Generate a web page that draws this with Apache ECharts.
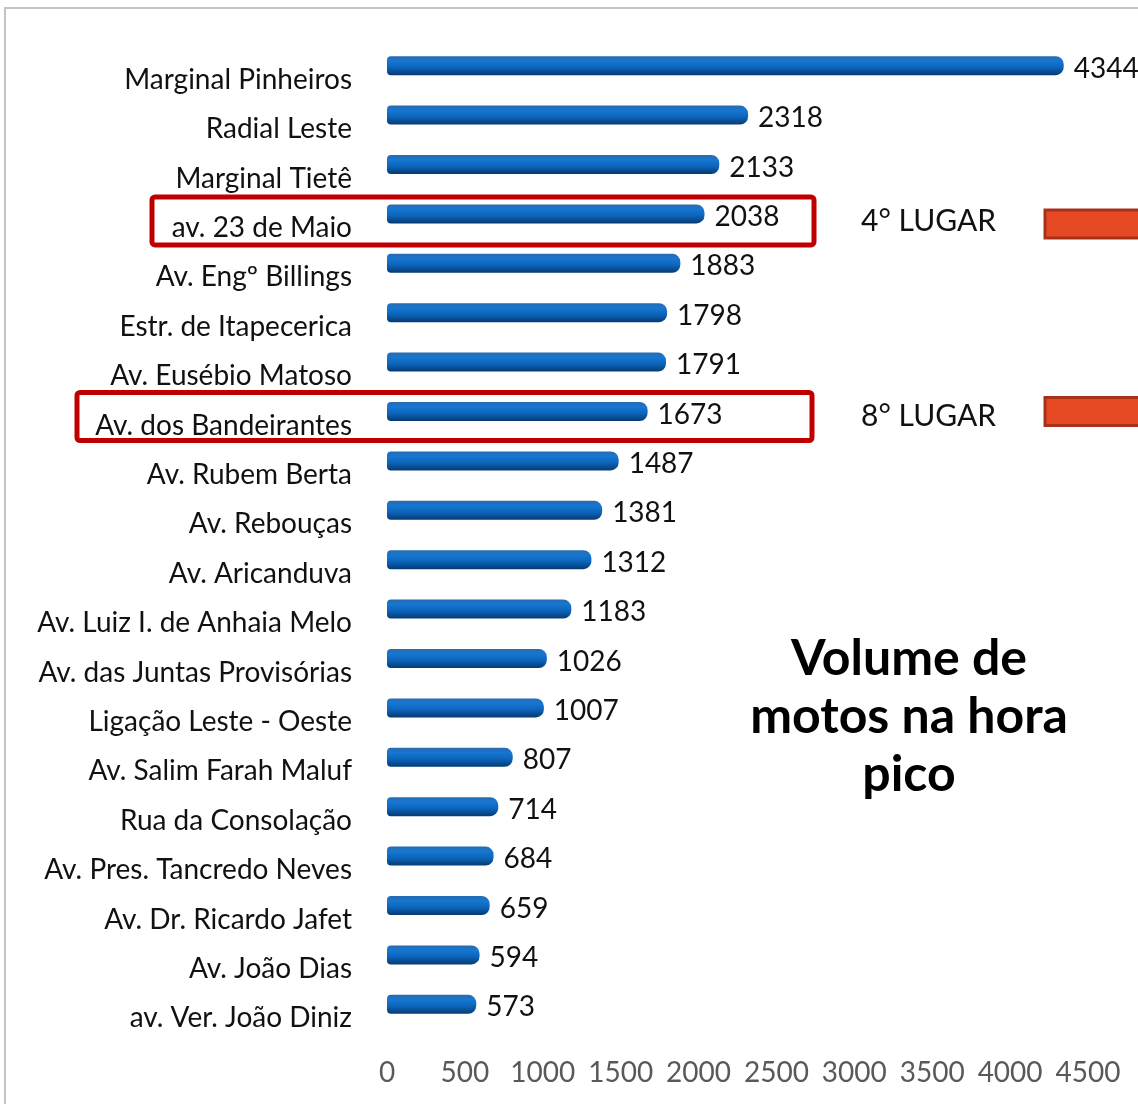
<!DOCTYPE html>
<html>
<head>
<meta charset="utf-8">
<script src="https://cdn.jsdelivr.net/npm/echarts@6/dist/echarts.min.js"></script>
<style>
  html, body { margin: 0; padding: 0; background: #fff; }
  #chart { width: 1138px; height: 1104px; }
</style>
</head>
<body>
<div id="chart"></div>
<script>
// vias (de cima para baixo)
const vias = [
  'Marginal Pinheiros', 'Radial Leste', 'Marginal Tietê', 'av. 23 de Maio',
  'Av. Engº Billings', 'Estr. de Itapecerica', 'Av. Eusébio Matoso',
  'Av. dos Bandeirantes', 'Av. Rubem Berta', 'Av. Rebouças', 'Av. Aricanduva',
  'Av. Luiz I. de Anhaia Melo', 'Av. das Juntas Provisórias', 'Ligação Leste - Oeste',
  'Av. Salim Farah Maluf', 'Rua da Consolação', 'Av. Pres. Tancredo Neves',
  'Av. Dr. Ricardo Jafet', 'Av. João Dias', 'av. Ver. João Diniz'
]
const motos = [4344, 2318, 2133, 2038, 1883, 1798, 1791, 1673, 1487, 1381,
  1312, 1183, 1026, 1007, 807, 714, 684, 659, 594, 573]
const xTicks = [0, 500, 1000, 1500, 2000, 2500, 3000, 3500, 4000, 4500]
// destaques: categoria, texto, caixa [esquerda, direita]
const destaques = [
  { via: 'av. 23 de Maio', texto: '4° LUGAR', caixa: [152, 814], dy: 7, dyRet: 10, dyTxt: 7 },
  { via: 'Av. dos Bandeirantes', texto: '8° LUGAR', caixa: [77, 812], dy: 5, dyRet: 0, dyTxt: 5 }
]

const chart = echarts.init(document.getElementById('chart'))
const fonte = 'Lato, "Open Sans", sans-serif'

const option = {
  animation: false,
  grid: { left: 387, right: 50, top: 41, bottom: 75, containLabel: false },
  xAxis: {
    type: 'value',
    min: xTicks[0],
    max: xTicks[xTicks.length - 1],
    interval: 500,
    axisLine: { show: false },
    axisTick: { show: false },
    splitLine: { show: false },
    axisLabel: {
      color: '#595959', fontSize: 28, fontFamily: fonte, margin: 30,
      formatter: v => String(v)
    }
  },
  yAxis: {
    type: 'category',
    data: vias,
    inverse: true,
    axisLine: { show: false },
    axisTick: { show: false },
    axisLabel: {
      color: '#111', fontSize: 28, fontFamily: fonte, margin: 35,
      verticalAlign: 'top'
    }
  },
  series: [{
    type: 'bar',
    data: motos,
    barWidth: 19,
    itemStyle: {
      borderRadius: [4, 8, 8, 4],
      color: new echarts.graphic.LinearGradient(0, 0, 0, 1, [
        { offset: 0, color: '#2a6aae' },
        { offset: 0.25, color: '#1677d2' },
        { offset: 0.6, color: '#0c64ba' },
        { offset: 1, color: '#063a72' }
      ])
    },
    label: {
      show: true, position: 'right', distance: 10, offset: [0, 3],
      color: '#111', fontSize: 28, fontFamily: fonte
    }
  }]
}
chart.setOption(option)

// anotações: borda, caixas vermelhas, textos e título
const graficos = [{
  type: 'rect', silent: true,
  shape: { x: 5, y: 8, width: 1300, height: 1300 },
  style: { fill: 'none', stroke: '#c4c4c4', lineWidth: 2 }
}]
destaques.forEach(d => {
  const cy = chart.convertToPixel({ yAxisIndex: 0 }, d.via)
  graficos.push({
    type: 'rect', silent: true,
    shape: { x: d.caixa[0], y: cy + d.dy - 24, width: d.caixa[1] - d.caixa[0], height: 48, r: 3 },
    style: { fill: 'none', stroke: '#c00000', lineWidth: 5 }
  })
  graficos.push({
    type: 'text', silent: true, x: 861, y: cy + d.dyTxt,
    style: { text: d.texto, fill: '#111', font: '30px ' + fonte, textVerticalAlign: 'middle' }
  })
  graficos.push({
    type: 'rect', silent: true,
    shape: { x: 1045, y: cy + d.dyRet - 14, width: 120, height: 28 },
    style: { fill: '#e64a25', stroke: '#a9311b', lineWidth: 3 }
  })
})
graficos.push({
  type: 'text', silent: true, x: 909, y: 717,
  style: {
    text: 'Volume de\nmotos na hora\npico',
    fill: '#000', font: 'bold 50px ' + fonte,
    textAlign: 'center', textVerticalAlign: 'middle', lineHeight: 58
  }
})
chart.setOption({ graphic: graficos })
</script>
</body>
</html>
